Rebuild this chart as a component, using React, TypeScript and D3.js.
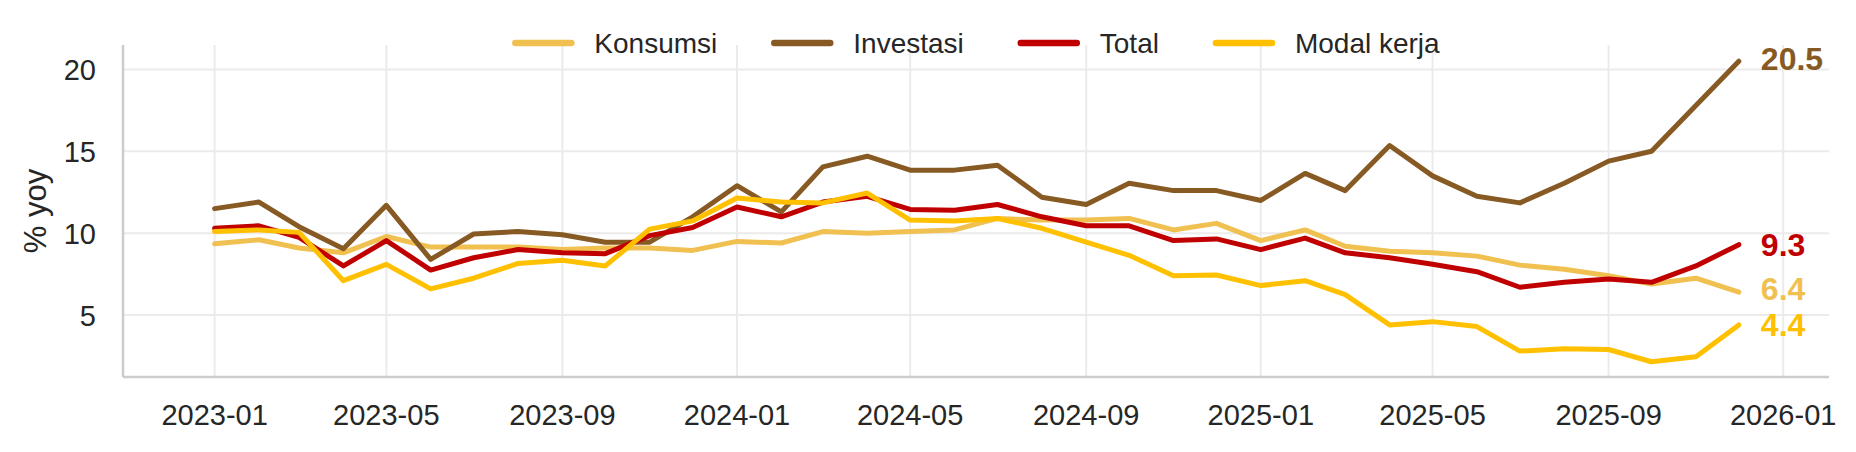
import { useEffect, useRef } from "react";
import * as d3 from "d3";

const months = [
  "2023-01", "2023-02", "2023-03", "2023-04", "2023-05", "2023-06", "2023-07", "2023-08", "2023-09", "2023-10", "2023-11", "2023-12",
  "2024-01", "2024-02", "2024-03", "2024-04", "2024-05", "2024-06", "2024-07", "2024-08", "2024-09", "2024-10", "2024-11", "2024-12",
  "2025-01", "2025-02", "2025-03", "2025-04", "2025-05", "2025-06", "2025-07", "2025-08", "2025-09", "2025-10", "2025-11", "2025-12",
];

const konsumsi = [
  9.35, 9.6, 9.1, 8.8, 9.8, 9.15, 9.15, 9.15, 9.0, 9.1, 9.1, 8.95,
  9.5, 9.4, 10.1, 10.0, 10.1, 10.2, 10.9, 10.8, 10.8, 10.9, 10.2, 10.6,
  9.55, 10.2, 9.2, 8.9, 8.8, 8.6, 8.05, 7.8, 7.4, 6.9, 7.25, 6.4,
];
const investasi = [
  11.5, 11.9, 10.4, 9.05, 11.7, 8.4, 9.95, 10.1, 9.9, 9.45, 9.45, 11.0,
  12.9, 11.3, 14.05, 14.7, 13.85, 13.85, 14.15, 12.2, 11.75, 13.05, 12.6, 12.6,
  12.0, 13.65, 12.6, 15.35, 13.5, 12.25, 11.85, 13.05, 14.4, 15.0, 17.8, 20.5,
];
const total = [
  10.3, 10.45, 9.75, 8.0, 9.55, 7.75, 8.5, 9.0, 8.8, 8.75, 9.85, 10.35,
  11.6, 11.0, 11.9, 12.25, 11.45, 11.4, 11.75, 11.0, 10.45, 10.45, 9.55, 9.65,
  9.0, 9.7, 8.8, 8.5, 8.1, 7.65, 6.7, 7.0, 7.2, 7.0, 8.0, 9.3,
];
const modalKerja = [
  10.1, 10.2, 10.05, 7.1, 8.1, 6.6, 7.25, 8.15, 8.35, 8.0, 10.25, 10.75,
  12.15, 11.9, 11.85, 12.45, 10.8, 10.75, 10.9, 10.3, 9.45, 8.65, 7.4, 7.45,
  6.8, 7.1, 6.25, 4.4, 4.6, 4.3, 2.8, 2.95, 2.9, 2.15, 2.45, 4.4,
];

const seriesNames = ["Konsumsi", "Investasi", "Total", "Modal kerja"];
const seriesValues = [konsumsi, investasi, total, modalKerja];
const seriesColors = ["#f0c050", "#875a24", "#c00000", "#ffc000"];

const yTicks = [5, 10, 15, 20];
const xTicks = ["2023-01", "2023-05", "2023-09", "2024-01", "2024-05", "2024-09", "2025-01", "2025-05", "2025-09", "2026-01"];

const W = 1856;
const H = 452;
const FONT = "'Liberation Sans', Arial, sans-serif";

export default function App() {
  const ref = useRef<SVGSVGElement>(null);

  useEffect(() => {
    if (!ref.current) return;
    const svg = d3.select(ref.current);
    svg.selectAll("*").remove();

    const left = 123;
    const right = 1829;
    const top = 45;
    const bottom = 377;
    const parse = d3.timeParse("%Y-%m");

    const x = d3
      .scaleTime()
      .domain([new Date(2022, 9, 29), new Date(2026, 1, 2)])
      .range([left, right]);
    const y = d3.scaleLinear().domain([1.22, 21.49]).range([bottom, top]);

    // grid
    const grid = svg.append("g");
    grid
      .selectAll("line.h")
      .data(yTicks)
      .enter()
      .append("line")
      .attr("x1", left)
      .attr("x2", right)
      .attr("y1", (d) => y(d))
      .attr("y2", (d) => y(d))
      .attr("stroke", "#ebebeb")
      .attr("stroke-width", 2);
    grid
      .selectAll("line.v")
      .data(xTicks)
      .enter()
      .append("line")
      .attr("x1", (d) => x(parse(d)!))
      .attr("x2", (d) => x(parse(d)!))
      .attr("y1", top)
      .attr("y2", bottom)
      .attr("stroke", "#ebebeb")
      .attr("stroke-width", 2);

    // spines
    svg.append("line").attr("x1", left).attr("x2", left).attr("y1", top).attr("y2", bottom)
      .attr("stroke", "#cccccc").attr("stroke-width", 2.5);
    svg.append("line").attr("x1", left).attr("x2", right).attr("y1", bottom).attr("y2", bottom)
      .attr("stroke", "#cccccc").attr("stroke-width", 2.5);

    // tick labels
    svg
      .selectAll("text.yt")
      .data(yTicks)
      .enter()
      .append("text")
      .attr("x", 96)
      .attr("y", (d) => y(d))
      .attr("dy", "0.36em")
      .attr("text-anchor", "end")
      .style("font-family", FONT)
      .style("font-size", "29px")
      .style("fill", "#262626")
      .text((d) => d);
    svg
      .selectAll("text.xt")
      .data(xTicks)
      .enter()
      .append("text")
      .attr("x", (d) => x(parse(d)!))
      .attr("y", 425)
      .attr("text-anchor", "middle")
      .style("font-family", FONT)
      .style("font-size", "29px")
      .style("fill", "#262626")
      .text((d) => d);

    svg
      .append("text")
      .attr("transform", `translate(46,${(top + bottom) / 2}) rotate(-90)`)
      .attr("text-anchor", "middle")
      .style("font-family", FONT)
      .style("font-size", "31px")
      .style("fill", "#262626")
      .text("% yoy");

    // lines
    const line = d3
      .line<number>()
      .x((_d, i) => x(parse(months[i])!))
      .y((d) => y(d));
    seriesValues.forEach((vals, k) => {
      svg
        .append("path")
        .attr("d", line(vals)!)
        .attr("fill", "none")
        .attr("stroke", seriesColors[k])
        .attr("stroke-width", 5)
        .attr("stroke-linejoin", "round")
        .attr("stroke-linecap", "round");
    });

    // end labels
    const lastDate = parse(months[months.length - 1])!;
    seriesValues.forEach((vals, k) => {
      const v = vals[vals.length - 1];
      svg
        .append("text")
        .attr("x", x(lastDate) + 22)
        .attr("y", y(v) - (k === 1 ? 3 : k === 0 ? 4 : 0))
        .attr("dy", "0.36em")
        .style("font-family", FONT)
        .style("font-size", "32px")
        .style("font-weight", "700")
        .style("fill", seriesColors[k])
        .text(v.toFixed(1));
    });

    // legend
    const legend = svg.append("g");
    const handle = 62;
    const gap = 20;
    const spacing = 54;
    let cx = 0;
    seriesNames.forEach((name, k) => {
      const g = legend.append("g").attr("transform", `translate(${cx},0)`);
      g.append("line")
        .attr("x1", 3).attr("x2", handle - 3).attr("y1", 0).attr("y2", 0)
        .attr("stroke", seriesColors[k]).attr("stroke-width", 6.5).attr("stroke-linecap", "round");
      const t = g
        .append("text")
        .attr("x", handle + gap)
        .attr("y", 0)
        .attr("dy", "0.36em")
        .style("font-family", FONT)
        .style("font-size", "28px")
        .style("fill", "#262626")
        .text(name);
      const tw = (t.node() as SVGTextElement).getComputedTextLength();
      cx += handle + gap + tw + spacing;
    });
    const legendWidth = cx - spacing;
    legend.attr("transform", `translate(${(left + right) / 2 - legendWidth / 2},43)`);
  }, []);

  return (
    <svg
      ref={ref}
      width={W}
      height={H}
      style={{ position: "absolute", left: 0, top: 0, background: "#fff" }}
    />
  );
}
